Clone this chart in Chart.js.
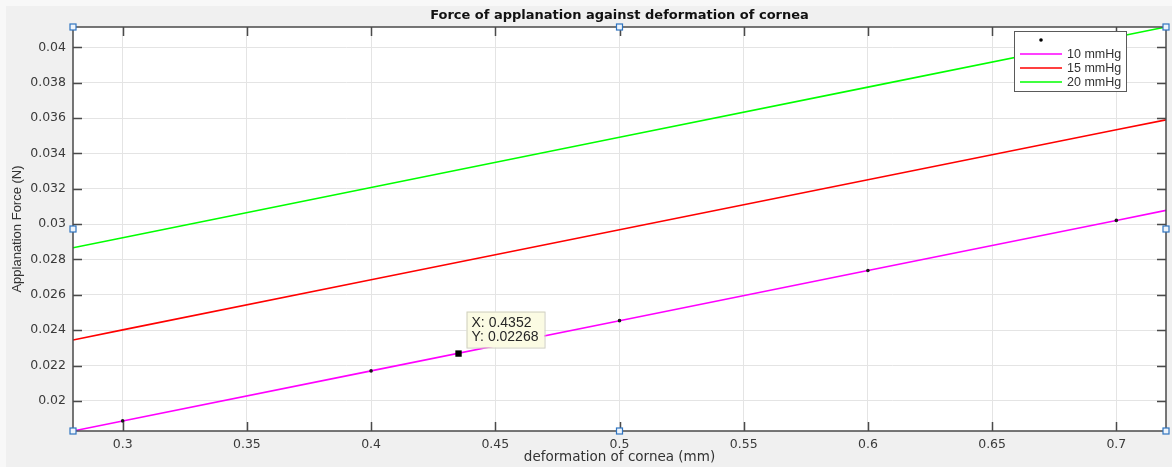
<!DOCTYPE html>
<html>
<head>
<meta charset="utf-8">
<script src="https://cdn.jsdelivr.net/npm/chart.js@4.4.1/dist/chart.umd.min.js"></script>
<style>
  html, body { margin: 0; padding: 0; background: #f0f0f0; }
</style>
</head>
<body>
<canvas id="forceChart" width="1172" height="467"></canvas>
<script>
// deformation (mm) sampled along each line
var xValues = [0.28, 0.3, 0.4, 0.5, 0.6, 0.7, 0.72];
var force10 = [0.01830, 0.01887, 0.02170, 0.02454, 0.02738, 0.03021, 0.03078];
var force15 = [0.02345, 0.02402, 0.02685, 0.02968, 0.03251, 0.03534, 0.03590];
var force20 = [0.02866, 0.02923, 0.03207, 0.03491, 0.03775, 0.04058, 0.04115];

// the black dots sitting on the 10 mmHg line
var dotX = [0.3, 0.4, 0.5, 0.6, 0.7];
var dotY = [0.01887, 0.02170, 0.02454, 0.02738, 0.03021];

var seriesLabels = ["10 mmHg", "15 mmHg", "20 mmHg"];
var seriesColors = ["#ff00ff", "#ff0000", "#00ff00"];

var xTicks = [0.3, 0.35, 0.4, 0.45, 0.5, 0.55, 0.6, 0.65, 0.7];
var yTicks = [0.02, 0.022, 0.024, 0.026, 0.028, 0.03, 0.032, 0.034, 0.036, 0.038, 0.04];

// data tip
var tipX = [0.4352];
var tipY = [0.02268];
var tipLines = ["X: 0.4352", "Y: 0.02268"];

var xMin = xValues[0], xMax = xValues[xValues.length - 1];
var yMin = Math.min.apply(null, force10.concat(force15, force20));
var yMax = Math.max.apply(null, force10.concat(force15, force20));

function pts(xs, ys) {
  return xs.map(function(x, i) { return { x: x, y: ys[i] }; });
}

var FONT = "'Liberation Sans', Arial, Helvetica, sans-serif";
var WIDE = "'DejaVu Sans', Verdana, sans-serif";

var matlabAxes = {
  id: "matlabAxes",
  beforeDraw: function(chart) {
    var ctx = chart.ctx, a = chart.chartArea;
    ctx.save();
    ctx.fillStyle = "#f0f0f0";
    ctx.fillRect(0, 0, chart.width, chart.height);
    ctx.fillStyle = "#f8f8f8";
    ctx.fillRect(0, 0, chart.width, 6);
    ctx.fillRect(0, 0, 6, chart.height);
    ctx.fillStyle = "#ffffff";
    ctx.fillRect(a.left, a.top, a.right - a.left, a.bottom - a.top);
    ctx.restore();
  },
  afterDatasetsDraw: function(chart) {
    var ctx = chart.ctx, a = chart.chartArea;
    var xs = chart.scales.x, ys = chart.scales.y;
    var tl = 9;
    ctx.save();
    // box + inward ticks
    ctx.strokeStyle = "#4a4a4a";
    ctx.lineWidth = 1.5;
    ctx.strokeRect(a.left, a.top, a.right - a.left, a.bottom - a.top);
    ctx.beginPath();
    xTicks.forEach(function(v) {
      var px = Math.round(xs.getPixelForValue(v)) + 0.5;
      ctx.moveTo(px, a.bottom); ctx.lineTo(px, a.bottom - tl);
      ctx.moveTo(px, a.top); ctx.lineTo(px, a.top + tl);
    });
    yTicks.forEach(function(v) {
      var py = Math.round(ys.getPixelForValue(v)) + 0.5;
      ctx.moveTo(a.left, py); ctx.lineTo(a.left + tl, py);
      ctx.moveTo(a.right, py); ctx.lineTo(a.right - tl, py);
    });
    ctx.stroke();

    // selection handles
    var mx = (a.left + a.right) / 2, my = (a.top + a.bottom) / 2;
    [[a.left, a.top], [mx, a.top], [a.right, a.top], [a.left, my], [a.right, my],
     [a.left, a.bottom], [mx, a.bottom], [a.right, a.bottom]].forEach(function(p) {
      ctx.fillStyle = "#eef4fb";
      ctx.fillRect(p[0] - 3, p[1] - 3, 6, 6);
      ctx.strokeStyle = "#2f74c0";
      ctx.lineWidth = 1.2;
      ctx.strokeRect(p[0] - 3, p[1] - 3, 6, 6);
    });

    // data tip box
    var tx = xs.getPixelForValue(tipX[0]), ty = ys.getPixelForValue(tipY[0]);
    var bx = tx + 8, by = ty - 42;
    ctx.fillStyle = "#fbfbe3";
    ctx.fillRect(bx, by, 78, 36);
    ctx.strokeStyle = "#cfcfc0";
    ctx.lineWidth = 1;
    ctx.strokeRect(bx + 0.5, by + 0.5, 78, 36);
    ctx.fillStyle = "#262626";
    ctx.font = "14px " + FONT;
    ctx.textBaseline = "middle";
    ctx.textAlign = "left";
    ctx.fillText(tipLines[0], bx + 5, by + 12);
    ctx.fillText(tipLines[1], bx + 5, by + 26);

    // legend
    var lw = 112, lh = 60;
    var lx = a.right - 40 - lw, ly = a.top + 4;
    ctx.fillStyle = "#ffffff";
    ctx.fillRect(lx, ly, lw, lh);
    ctx.strokeStyle = "#5a5a5a";
    ctx.lineWidth = 1;
    ctx.strokeRect(lx + 0.5, ly + 0.5, lw, lh);
    ctx.fillStyle = "#000";
    ctx.beginPath();
    ctx.arc(lx + 27, ly + 9, 1.8, 0, Math.PI * 2);
    ctx.fill();
    var rows = [23, 37, 51];
    ctx.font = "12.5px " + FONT;
    seriesLabels.forEach(function(lbl, i) {
      ctx.strokeStyle = seriesColors[i];
      ctx.lineWidth = 1.5;
      ctx.beginPath();
      ctx.moveTo(lx + 6, ly + rows[i]);
      ctx.lineTo(lx + 48, ly + rows[i]);
      ctx.stroke();
      ctx.fillStyle = "#333";
      ctx.fillText(lbl, lx + 53, ly + rows[i] + 1);
    });
    ctx.restore();
  }
};

new Chart(document.getElementById("forceChart"), {
  type: "line",
  data: {
    datasets: [{
      label: "",
      data: pts(tipX, tipY),
      showLine: false,
      pointStyle: "rect",
      pointRadius: 4.5,
      backgroundColor: "#000",
      borderColor: "#000",
      borderWidth: 0
    }, {
      label: "",
      data: pts(dotX, dotY),
      showLine: false,
      pointRadius: 1.8,
      backgroundColor: "#1a1a1a",
      borderWidth: 0
    }, {
      label: seriesLabels[0],
      data: pts(xValues, force10),
      borderColor: seriesColors[0],
      borderWidth: 1.6,
      pointRadius: 0
    }, {
      label: seriesLabels[1],
      data: pts(xValues, force15),
      borderColor: seriesColors[1],
      borderWidth: 1.6,
      pointRadius: 0
    }, {
      label: seriesLabels[2],
      data: pts(xValues, force20),
      borderColor: seriesColors[2],
      borderWidth: 1.6,
      pointRadius: 0
    }]
  },
  options: {
    responsive: false,
    animation: false,
    layout: { padding: { right: 6 } },
    plugins: {
      legend: { display: false },
      tooltip: { enabled: false },
      title: {
        display: true,
        fullSize: false,
        text: "Force of applanation against deformation of cornea",
        color: "#111",
        font: { family: WIDE, size: 13, weight: "bold" },
        padding: { top: 8, bottom: 3.4 }
      }
    },
    scales: {
      x: {
        type: "linear",
        min: xMin,
        max: xMax,
        afterBuildTicks: function(s) { s.ticks = xTicks.map(function(v) { return { value: v }; }); },
        afterFit: function(s) { s.height = 36; },
        ticks: {
          callback: function(v) { return String(v); },
          autoSkip: false, maxRotation: 0, padding: 6,
          color: "#3a3a3a", font: { family: WIDE, size: 12.5 }
        },
        grid: { color: "#e4e4e4", drawTicks: false },
        border: { display: false },
        title: {
          display: true,
          text: "deformation of cornea (mm)",
          color: "#333",
          font: { family: WIDE, size: 13.5 },
          padding: { top: 0, bottom: 1 }
        }
      },
      y: {
        min: yMin,
        max: yMax,
        afterBuildTicks: function(s) { s.ticks = yTicks.map(function(v) { return { value: v }; }); },
        afterFit: function(s) { s.width = 73; },
        ticks: {
          callback: function(v) { return String(v); },
          autoSkip: false, padding: 7,
          color: "#3a3a3a", font: { family: WIDE, size: 12.5 }
        },
        grid: { color: "#e4e4e4", drawTicks: false },
        border: { display: false },
        title: {
          display: true,
          text: "Applanation Force (N)",
          color: "#333",
          font: { family: FONT, size: 13 },
          padding: { top: 10, bottom: 0 }
        }
      }
    }
  },
  plugins: [matlabAxes]
});
</script>
</body>
</html>
